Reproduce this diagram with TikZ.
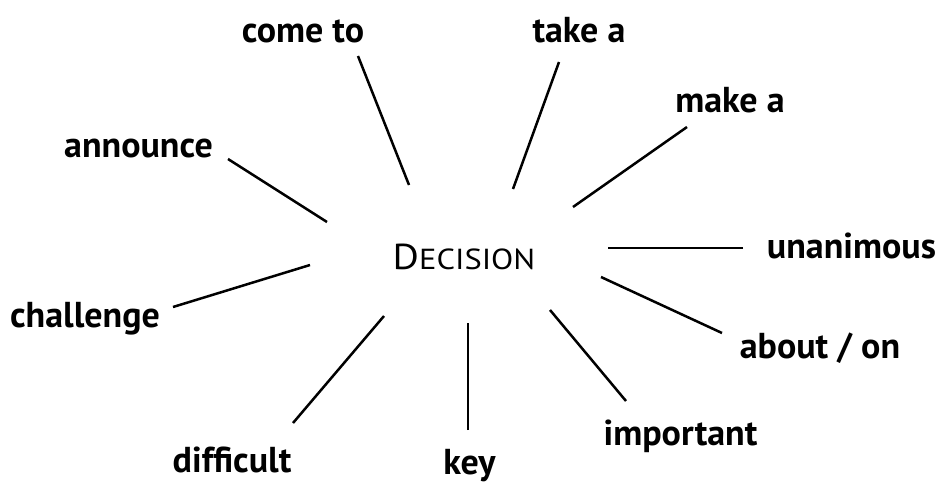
\documentclass[tikz,border=0pt]{standalone}
\usepackage{fontspec}
\setmainfont{PT Sans}
\begin{document}
\begin{tikzpicture}[x=1pt,y=-1pt,
  lab/.style={anchor=base,inner sep=0pt,font=\fontsize{36}{36}\selectfont\bfseries},
  spoke/.style={line width=2.5pt,black}]
\useasboundingbox (0,0) rectangle (940,485);
\node[anchor=base,inner sep=0pt] (dec) at (464,269)
  {\scalebox{1.12}[1]{\fontsize{36}{36}\selectfont D\fontsize{29}{29}\selectfont ECISION}};
\node[lab] (come) at (303,42) {come to};
\node[lab] (take) at (579,42) {take a};
\node[lab] (make) at (730,112) {make a};
\node[lab] (ann) at (138.5,157) {announce};
\node[lab] (una) at (851.5,258) {unanimous};
\node[lab] (abo) at (820,358) {about / on};
\node[lab] (imp) at (680.5,445) {important};
\node[lab] (key) at (469.5,474.5) {key};
\node[lab] (dif) at (232,472) {difficult};
\node[lab] (cha) at (85,327) {challenge};
% spoke ends
\coordinate (c1) at (358,56);  \coordinate (c2) at (409,185);
\coordinate (t1) at (559,62);  \coordinate (t2) at (513,189);
\coordinate (m1) at (687,127); \coordinate (m2) at (573,207);
\coordinate (a1) at (228,159); \coordinate (a2) at (327,222);
\coordinate (u1) at (743,248); \coordinate (u2) at (608,248);
\coordinate (b1) at (722,333); \coordinate (b2) at (601,277);
\coordinate (i1) at (626,401); \coordinate (i2) at (550,310);
\coordinate (k1) at (468,430); \coordinate (k2) at (468,323);
\coordinate (d1) at (293,423); \coordinate (d2) at (384,316);
\coordinate (h1) at (173,307); \coordinate (h2) at (310,265);
\foreach \p in {c,t,m,a,u,b,i,k,d,h}
  \draw[spoke] (\p1) -- (\p2);
\end{tikzpicture}
\end{document}
